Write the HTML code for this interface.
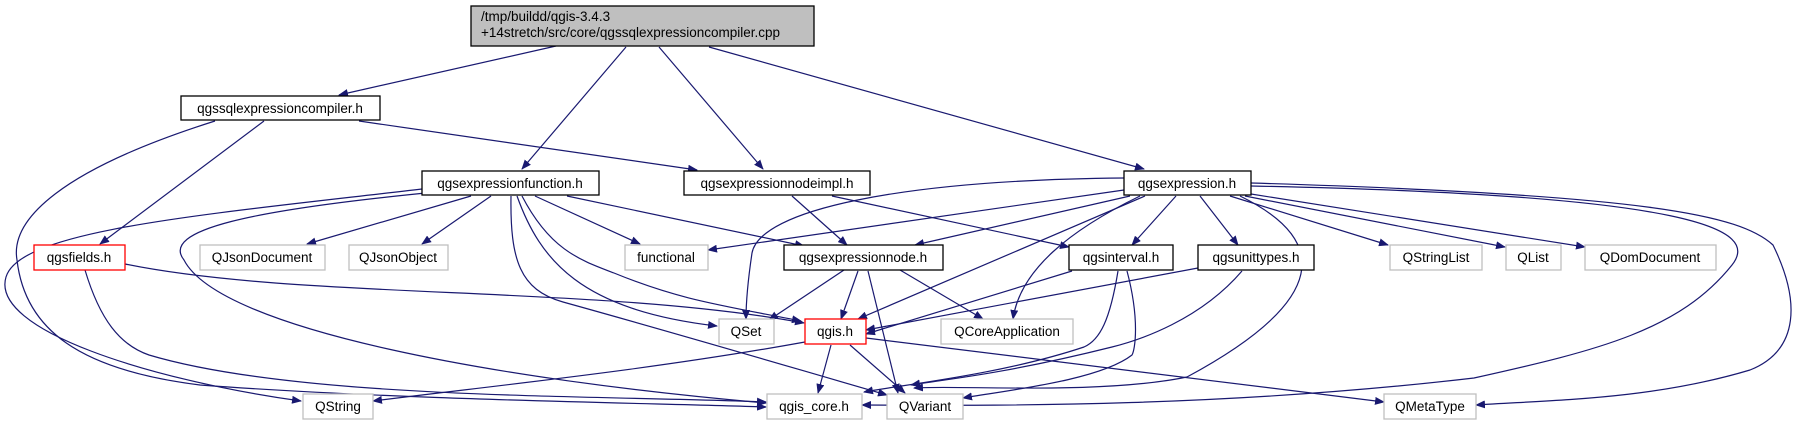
<!DOCTYPE html>
<html><head><meta charset="utf-8"><style>
html,body{margin:0;padding:0;background:#fff;}
svg{display:block;}
text{font-family:"Liberation Sans",sans-serif;font-size:13.5px;fill:#000;}
.e{fill:none;stroke:#191970;stroke-width:1.2;marker-end:url(#a);}
.b{fill:#fff;stroke:#000;stroke-width:1.3;}
.g{fill:#fff;stroke:#bfbfbf;stroke-width:1.3;}
.r{fill:#fff;stroke:#ff0000;stroke-width:1.3;}
</style></head><body>
<svg width="1799" height="425" viewBox="0 0 1799 425" xmlns="http://www.w3.org/2000/svg">
<defs><marker id="a" markerWidth="10" markerHeight="8" refX="9" refY="4" orient="auto" markerUnits="userSpaceOnUse"><path d="M0,0 L10,4 L0,8 z" fill="#191970"/></marker></defs>
<path class="e" d="M556,46 L339,95"/>
<path class="e" d="M626,47 L522,169"/>
<path class="e" d="M659,47 L763,169"/>
<path class="e" d="M709,47 L1144,169"/>
<path class="e" d="M359,121 L697,170"/>
<path class="e" d="M264,121 L100,244"/>
<path class="e" d="M215,121 C60,170 10,220 17,260 C25,330 80,370 200,385 C400,400 650,403 766,407"/>
<path class="e" d="M422,189 C200,215 20,230 6,277 C-10,330 150,380 301,401"/>
<path class="e" d="M436,192 C250,210 160,230 184,260 C220,330 500,380 766,403"/>
<path class="e" d="M471,196 L307,244"/>
<path class="e" d="M491,196 L422,244"/>
<path class="e" d="M535,196 L640,244"/>
<path class="e" d="M567,196 L804,246"/>
<path class="e" d="M517,196 C540,260 580,310 717,326"/>
<path class="e" d="M522,196 C550,250 580,260 614,273 C680,300 720,305 801,321"/>
<path class="e" d="M511,196 C510,260 520,290 563,302 C700,340 800,370 887,395"/>
<path class="e" d="M125,264 C300,300 600,285 804,323"/>
<path class="e" d="M85,270 C100,320 120,345 149,355 C300,400 600,395 766,402"/>
<path class="e" d="M792,196 L847,245"/>
<path class="e" d="M832,196 L1069,247"/>
<path class="e" d="M1124,190 L708,250"/>
<path class="e" d="M1124,178 C900,180 760,210 752,253 C748,280 746,300 746,319"/>
<path class="e" d="M1130,196 L915,245"/>
<path class="e" d="M1145,196 L858,319"/>
<path class="e" d="M1176,196 L1132,245"/>
<path class="e" d="M1200,196 L1238,245"/>
<path class="e" d="M1140,196 C1070,230 1020,270 1013,319"/>
<path class="e" d="M1240,196 C1330,240 1330,300 1187,377 C1100,395 960,385 914,388"/>
<path class="e" d="M1230,196 L1388,245"/>
<path class="e" d="M1245,196 L1505,247"/>
<path class="e" d="M1251,194 L1585,247"/>
<path class="e" d="M1251,186 C1700,195 1760,230 1732,265 C1680,330 1600,350 1474,378 C1200,410 950,405 862,405"/>
<path class="e" d="M1251,183 C1650,195 1740,215 1773,245 C1800,300 1800,350 1750,370 C1650,400 1550,400 1476,405"/>
<path class="e" d="M844,270 L769,320"/>
<path class="e" d="M858,271 L841,319"/>
<path class="e" d="M868,271 L898,393"/>
<path class="e" d="M900,270 L983,319"/>
<path class="e" d="M1072,271 L866,334"/>
<path class="e" d="M1118,271 C1110,320 1100,340 1084,347 C1000,375 900,385 864,392"/>
<path class="e" d="M1127,271 C1140,320 1135,350 1132,355 C1100,380 1010,390 963,398"/>
<path class="e" d="M1198,268 L866,330"/>
<path class="e" d="M1242,271 C1200,320 1140,340 1112,347 C1000,375 940,380 911,385"/>
<path class="e" d="M805,342 C650,370 500,385 373,401"/>
<path class="e" d="M831,345 L818,393"/>
<path class="e" d="M850,345 L905,393"/>
<path class="e" d="M866,338 L1384,402"/>
<rect x="471" y="6" width="343" height="40" fill="#bfbfbf" stroke="#000" stroke-width="1.3"/>
<text x="481" y="21">/tmp/buildd/qgis-3.4.3</text>
<text x="481" y="37">+14stretch/src/core/qgssqlexpressioncompiler.cpp</text>
<rect class="b" x="181" y="96" width="199" height="24"/><text x="280" y="113" text-anchor="middle">qgssqlexpressioncompiler.h</text>
<rect class="b" x="422" y="171" width="177" height="24"/><text x="510" y="188" text-anchor="middle">qgsexpressionfunction.h</text>
<rect class="b" x="684" y="171" width="186" height="24"/><text x="777" y="188" text-anchor="middle">qgsexpressionnodeimpl.h</text>
<rect class="b" x="1124" y="171" width="127" height="24"/><text x="1187" y="188" text-anchor="middle">qgsexpression.h</text>
<rect class="r" x="34" y="245" width="91" height="25"/><text x="79" y="262" text-anchor="middle">qgsfields.h</text>
<rect class="g" x="200" y="245" width="125" height="25"/><text x="262" y="262" text-anchor="middle">QJsonDocument</text>
<rect class="g" x="349" y="245" width="99" height="25"/><text x="398" y="262" text-anchor="middle">QJsonObject</text>
<rect class="g" x="625" y="245" width="83" height="25"/><text x="666" y="262" text-anchor="middle">functional</text>
<rect class="b" x="784" y="245" width="159" height="25"/><text x="863" y="262" text-anchor="middle">qgsexpressionnode.h</text>
<rect class="b" x="1069" y="245" width="104" height="25"/><text x="1121" y="262" text-anchor="middle">qgsinterval.h</text>
<rect class="b" x="1198" y="245" width="116" height="25"/><text x="1256" y="262" text-anchor="middle">qgsunittypes.h</text>
<rect class="g" x="1390" y="245" width="92" height="25"/><text x="1436" y="262" text-anchor="middle">QStringList</text>
<rect class="g" x="1506" y="245" width="55" height="25"/><text x="1533" y="262" text-anchor="middle">QList</text>
<rect class="g" x="1585" y="245" width="131" height="25"/><text x="1650" y="262" text-anchor="middle">QDomDocument</text>
<rect class="g" x="719" y="319" width="55" height="25"/><text x="746" y="336" text-anchor="middle">QSet</text>
<rect class="r" x="805" y="319" width="61" height="25"/><text x="835" y="336" text-anchor="middle">qgis.h</text>
<rect class="g" x="941" y="319" width="132" height="25"/><text x="1007" y="336" text-anchor="middle">QCoreApplication</text>
<rect class="g" x="303" y="394" width="70" height="25"/><text x="338" y="411" text-anchor="middle">QString</text>
<rect class="g" x="767" y="394" width="95" height="25"/><text x="814" y="411" text-anchor="middle">qgis_core.h</text>
<rect class="g" x="887" y="394" width="76" height="25"/><text x="925" y="411" text-anchor="middle">QVariant</text>
<rect class="g" x="1384" y="394" width="92" height="25"/><text x="1430" y="411" text-anchor="middle">QMetaType</text>
</svg>
</body></html>
